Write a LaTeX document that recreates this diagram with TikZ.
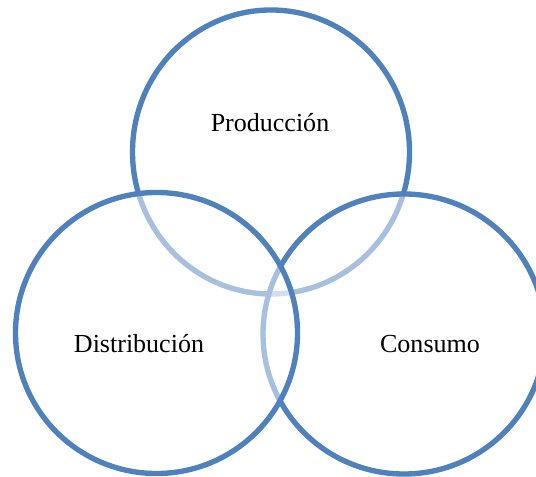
\documentclass[tikz,border=0pt]{standalone}
\usepackage{fontspec}
\setmainfont{Liberation Serif}
\usepackage{tikz}
\usetikzlibrary{positioning}
\definecolor{vennblue}{HTML}{4F81BD}
\tikzset{ring/.style = {draw=vennblue,line width=3.8pt,fill=white,fill opacity=0.5},
         label/.style = {anchor=base,font=\fontsize{18.5}{22}\selectfont}}

\begin{document}
\begin{tikzpicture}[x=0.025cm,y=-0.025cm]
            \useasboundingbox (0,0) rectangle (536,477);
            \coordinate (top)   at (271,152);
            \coordinate (left)  at (156.5,333);
            \coordinate (right) at (404,334);
            \draw[ring] (top)   ellipse [x radius=138.5, y radius=142];
            \draw[ring] (right) ellipse [x radius=141, y radius=140];
            \draw[ring] (left)  ellipse [x radius=141, y radius=140.5];
            \node[label] (prod) at (270,132) {Producción};
            \node[label] (dist) at (139,352.5) {Distribución};
            \node[label] (cons) at (430,352.5) {Consumo};
        \end{tikzpicture}
\end{document}
